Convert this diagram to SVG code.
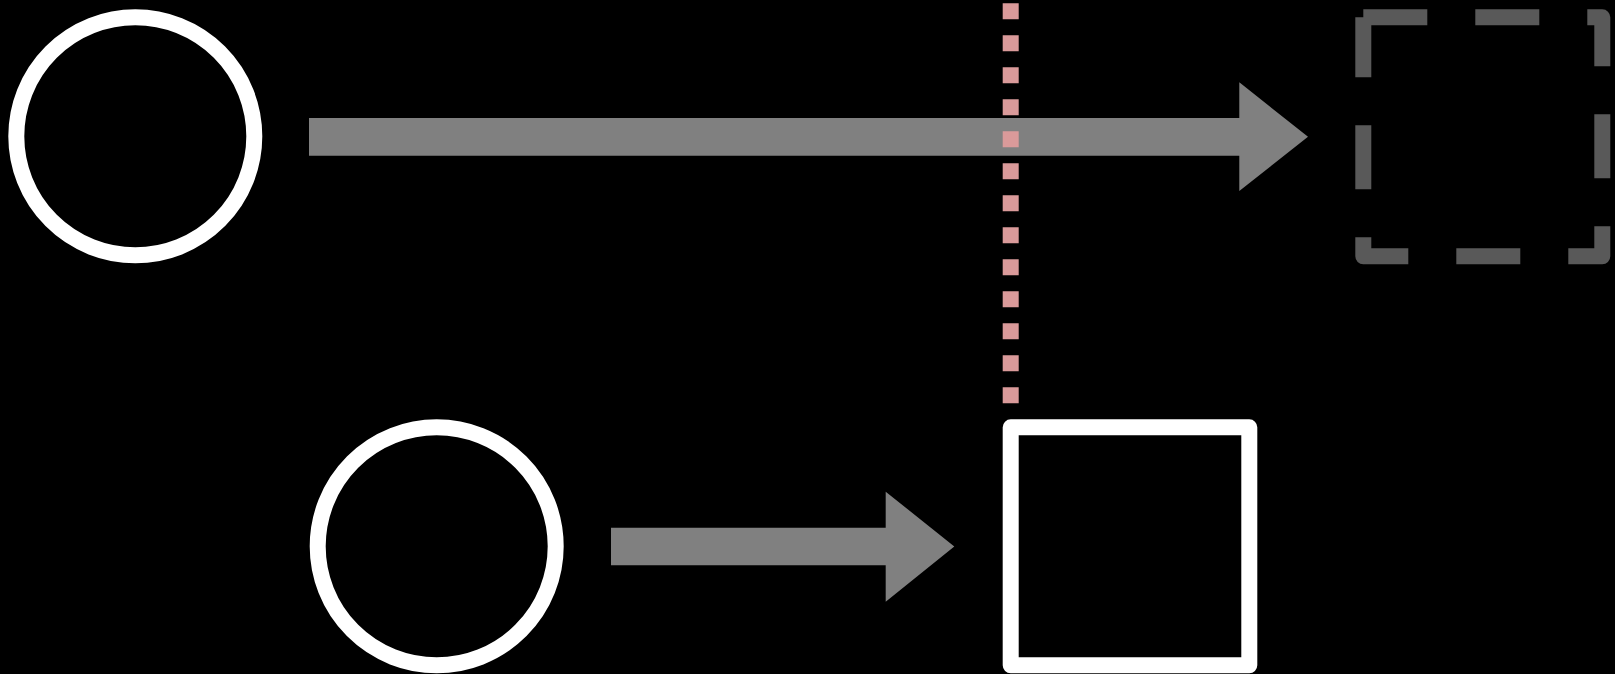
<svg xmlns="http://www.w3.org/2000/svg" width="1615" height="674" viewBox="0 0 1615 674">
  <style>
    .node { fill: #000000; stroke: #ffffff; stroke-width: 16; stroke-linejoin: round; }
    .ghost { fill: none; stroke: #595959; stroke-width: 16; stroke-dasharray: 64 48; stroke-linejoin: round; stroke-linecap: butt; }
    .arrow { fill: #808080; stroke: none; }
    .guide { fill: none; stroke: #da9a9a; stroke-width: 16; stroke-dasharray: 16 16; }
  </style>
  <rect x="0" y="0" width="1615" height="674" fill="#000000"/>
  <g id="circle-top">
    <circle class="node" cx="135.3" cy="136.3" r="119"/>
  </g>
  <g id="circle-bottom">
    <circle class="node" cx="436.7" cy="546.3" r="119"/>
  </g>
  <g id="square">
    <rect class="node" x="1010.7" y="427.3" width="238.6" height="238"/>
  </g>
  <g id="ghost-square">
    <path class="ghost" d="M1363.3,17.3 H1602.3 V256.3 H1363.3 V17.3"/>
  </g>
  <g id="connectors">
    <polygon class="arrow" points="309,118 1239.3,118 1239.3,82.3 1308,136.8 1239.3,191 1239.3,155.7 309,155.7"/>
    <polygon class="arrow" points="611,527.7 885.7,527.7 885.7,491.7 954.3,546.4 885.7,601.7 885.7,565.3 611,565.3"/>
    <line class="guide" x1="1010.7" y1="3.3" x2="1010.7" y2="403.3"/>
  </g>
</svg>
